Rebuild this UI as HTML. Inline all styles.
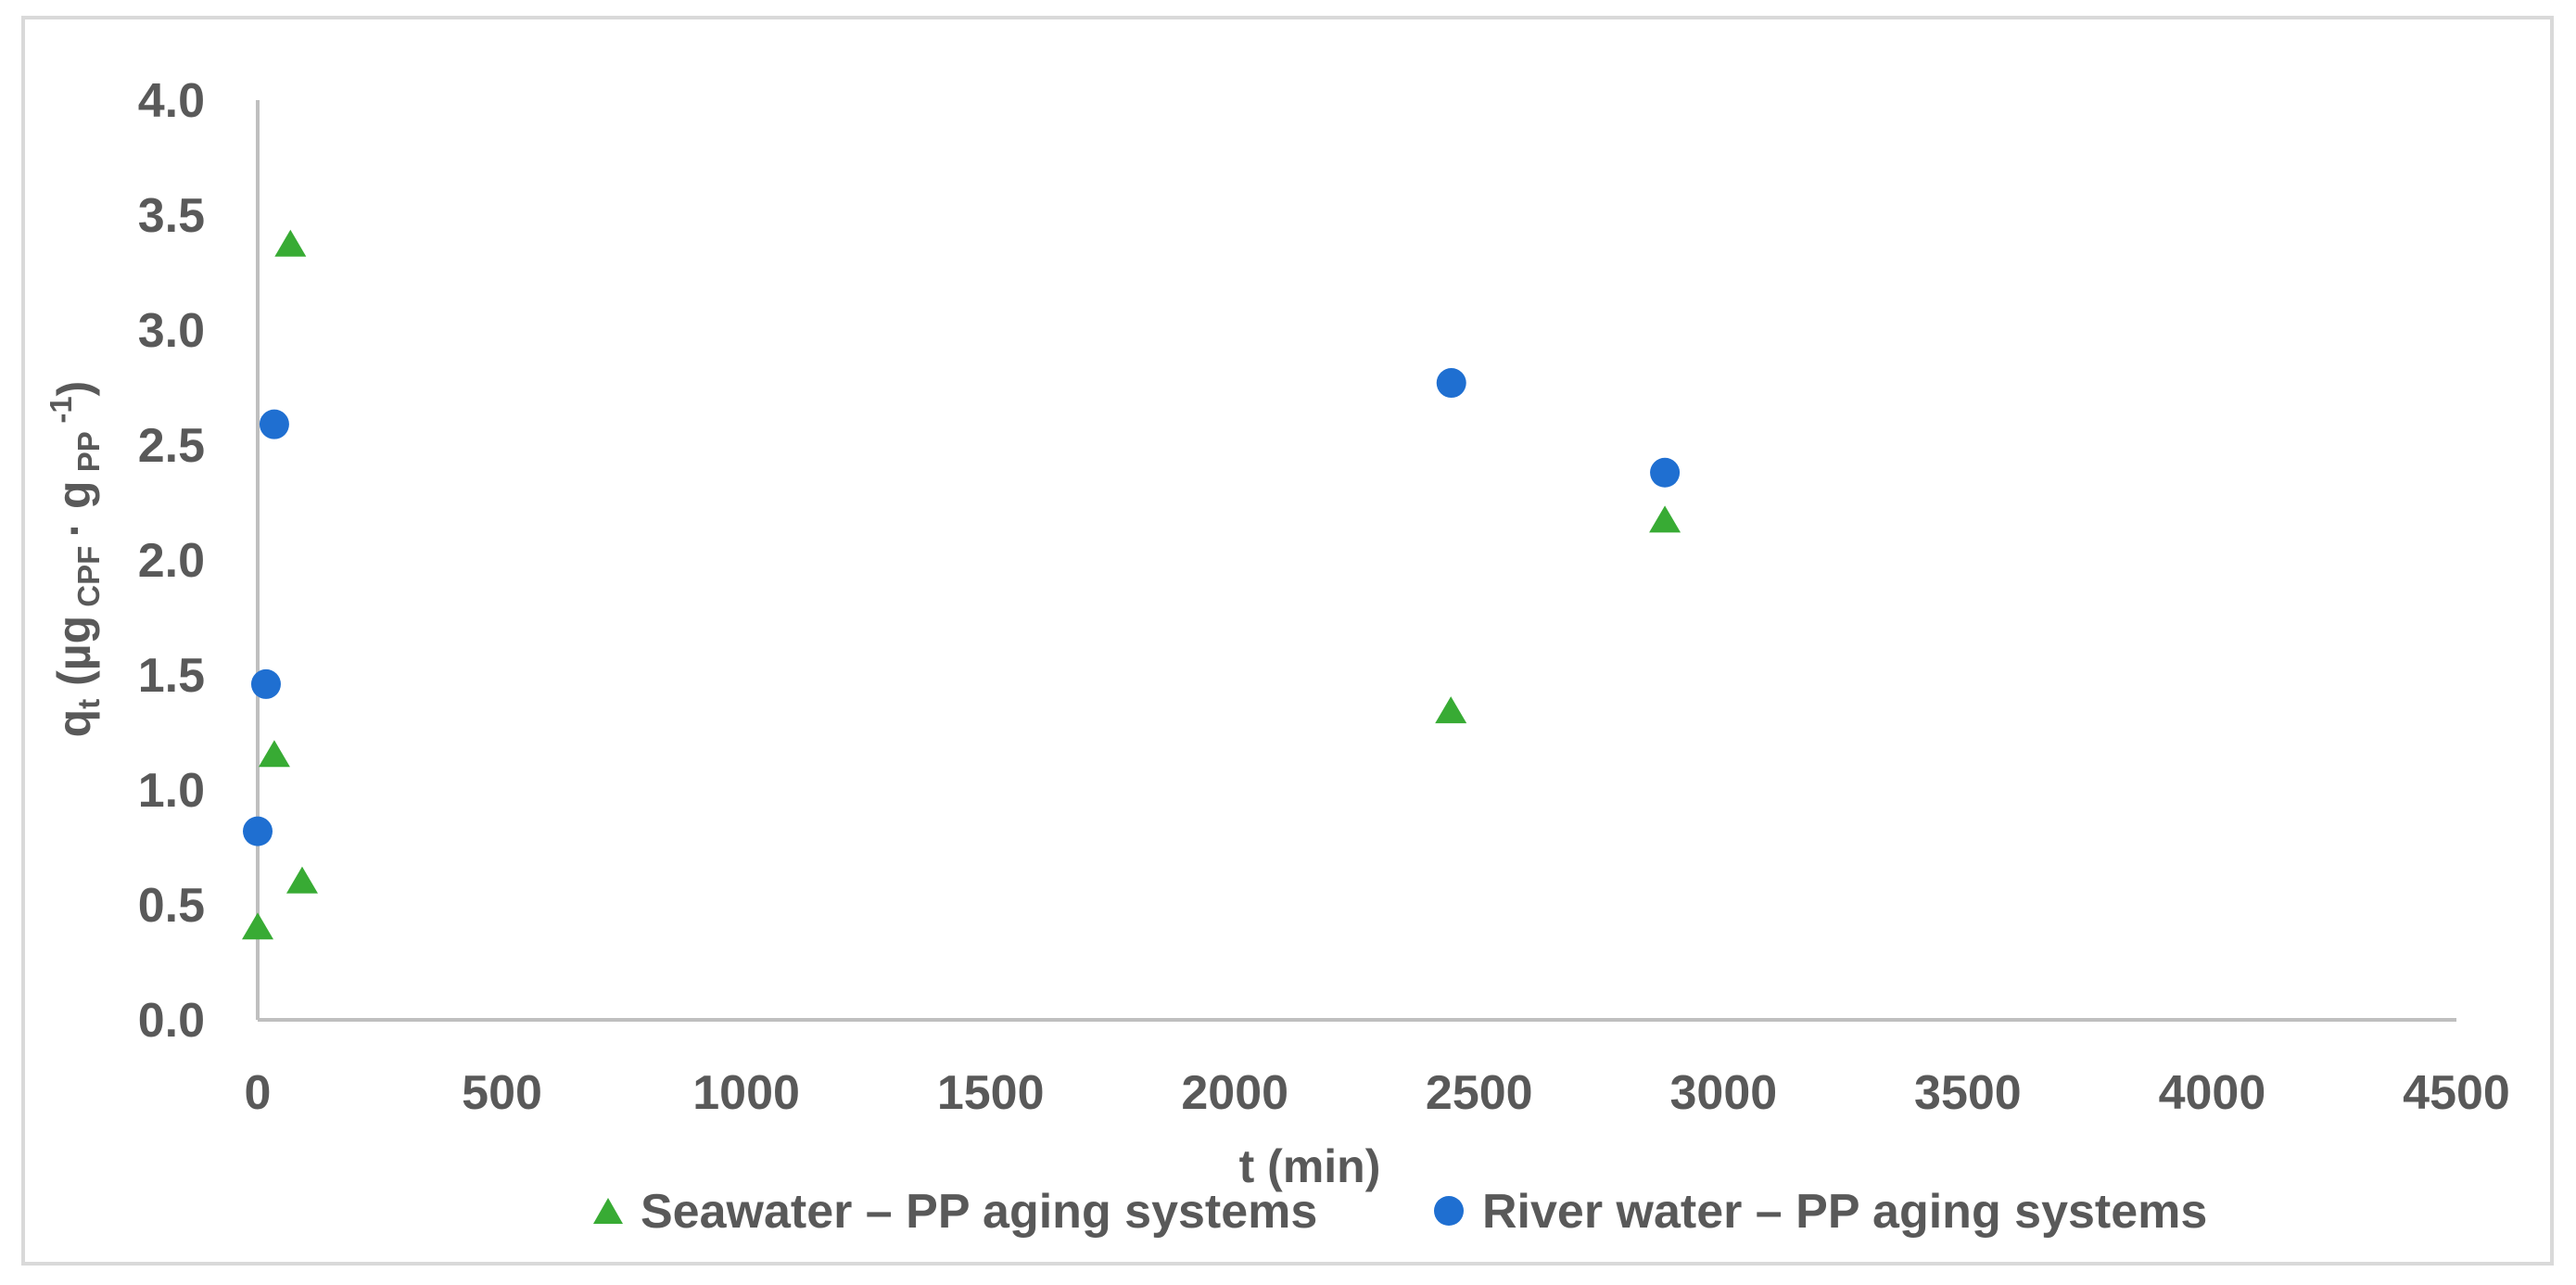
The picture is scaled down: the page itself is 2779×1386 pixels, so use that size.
<!DOCTYPE html>
<html><head><meta charset="utf-8"><style>
html,body{margin:0;padding:0;background:#fff;}
svg{display:block;font-family:"Liberation Sans",sans-serif;}
</style></head><body>
<svg id="chart" width="2779" height="1386" viewBox="0 0 2779 1386">
<rect x="25" y="19" width="2728" height="1344" fill="#fff" stroke="#d9d9d9" stroke-width="4"/>
<g id="axes"></g>
<g id="marks"></g>
<text x="1413" y="1275" text-anchor="middle" font-size="50" font-weight="bold" fill="#595959">t (min)</text>
<text transform="translate(97,603) rotate(-90)" text-anchor="middle" font-size="50" font-weight="bold" fill="#595959">q<tspan font-size="33" dy="10">t</tspan><tspan dy="-10">   (µg</tspan><tspan font-size="33" dy="10"> CPF </tspan><tspan dy="-10">· g</tspan><tspan font-size="33" dy="10"> PP </tspan><tspan font-size="33" dy="-30"> -1</tspan><tspan dy="20">)</tspan></text>
<g>
<polygon points="640,1320 672,1320 656,1292" fill="#38ab34"/>
<text x="691" y="1324" font-size="52" font-weight="bold" fill="#595959">Seawater – PP aging systems</text>
<circle cx="1563" cy="1306" r="16" fill="#1f6fd1"/>
<text x="1599" y="1324" font-size="52" font-weight="bold" fill="#595959">River water – PP aging systems</text>
</g>
</svg>
<script>
const xTicks = [0,500,1000,1500,2000,2500,3000,3500,4000,4500];
const yTicks = [0.0,0.5,1.0,1.5,2.0,2.5,3.0,3.5,4.0];
const seaT = [0, 34, 67, 91, 2442, 2880];
const seaQ = [0.39, 1.14, 3.36, 0.59, 1.33, 2.16];
const riverT = [0, 17, 34, 2443, 2880];
const riverQ = [0.82, 1.46, 2.59, 2.77, 2.38];

const NS = "http://www.w3.org/2000/svg";
const X0 = 278, X1 = 2650, Y0 = 1100, Y1 = 108;
function sx(v){ return X0 + (v - 0) / 4500 * (X1 - X0); }
function sy(v){ return Y0 - (v - 0) / 4 * (Y0 - Y1); }
function mk(tag, attrs){ const e = document.createElementNS(NS, tag); for (const k in attrs) e.setAttribute(k, attrs[k]); return e; }

const axes = document.getElementById('axes');
const marks = document.getElementById('marks');

const yl = mk('line', {x1: X0, y1: Y1, x2: X0, y2: Y0, stroke: '#bfbfbf', 'stroke-width': 4});


axes.appendChild(yl);
const xl = mk('line', {x1: X0, y1: Y0, x2: X1, y2: Y0, stroke: '#bfbfbf', 'stroke-width': 4});


axes.appendChild(xl);

yTicks.forEach(v => {
  const t = mk('text', {x: 221, y: sy(v) + 18, 'text-anchor': 'end', 'font-size': 52, 'font-weight': 'bold', fill: '#595959'});
  t.textContent = v.toFixed(1);
  
  
  axes.appendChild(t);
});
xTicks.forEach(v => {
  const t = mk('text', {x: sx(v), y: 1196, 'text-anchor': 'middle', 'font-size': 52, 'font-weight': 'bold', fill: '#595959'});
  t.textContent = String(v);
  
  
  axes.appendChild(t);
});

seaT.forEach((tv, i) => {
  const cx = sx(tv), cy = sy(seaQ[i]);
  const p = mk('polygon', {points: `${cx-17},${cy+10} ${cx+17},${cy+10} ${cx},${cy-19}`, fill: '#38ab34'});
  
  
  marks.appendChild(p);
});
riverT.forEach((tv, i) => {
  const c = mk('circle', {cx: sx(tv), cy: sy(riverQ[i]), r: 16, fill: '#1f6fd1'});
  
  
  marks.appendChild(c);
});
</script>
</body></html>
